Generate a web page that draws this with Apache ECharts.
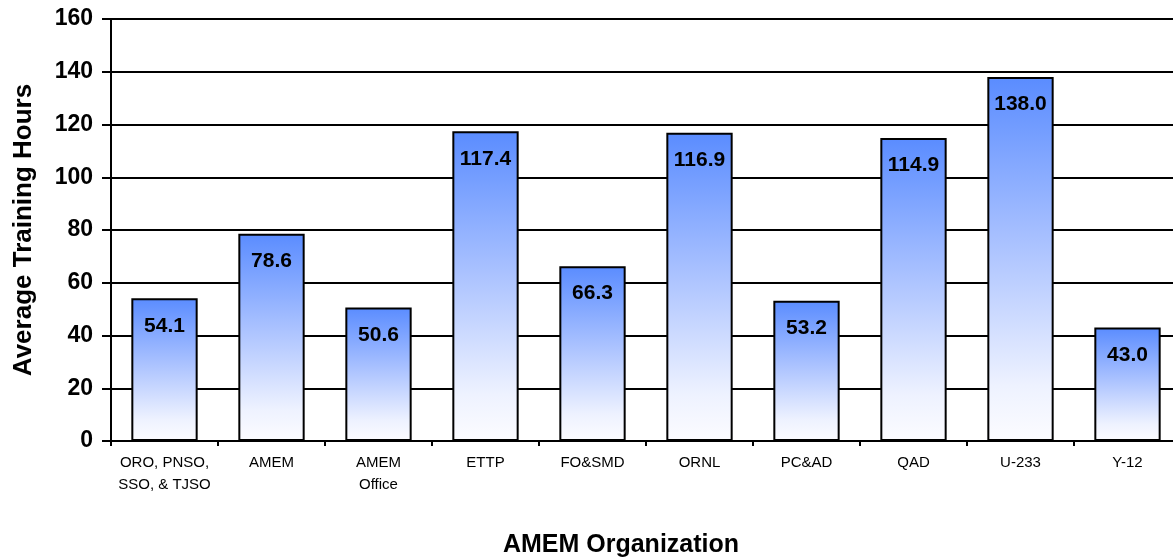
<!DOCTYPE html>
<html><head><meta charset="utf-8">
<script src="https://cdn.jsdelivr.net/npm/echarts@6/dist/echarts.min.js"></script>
<style>html,body{margin:0;padding:0;background:#fff}#c{width:1173px;height:558px}</style>
</head><body><div id="c"></div>
<script>
const categories = ["ORO, PNSO,\nSSO, & TJSO", "AMEM", "AMEM\nOffice", "ETTP", "FO&SMD", "ORNL", "PC&AD", "QAD", "U-233", "Y-12"];
const values = [54.1, 78.6, 50.6, 117.4, 66.3, 116.9, 53.2, 114.9, 138.0, 43.0];
const yTicks = { min: 0, max: 160, interval: 20 };

const FONT = 'Liberation Sans, Arial, sans-serif';
const chart = echarts.init(document.getElementById('c'), null, { renderer: 'canvas' });
chart.setOption({
  animation: false,
  backgroundColor: '#fff',
  grid: { left: 111, top: 19, bottom: 117, right: -8, containLabel: false, outerBoundsMode: 'none' },
  xAxis: {
    type: 'category',
    data: categories,
    name: 'AMEM Organization',
    nameLocation: 'middle',
    nameGap: 92,
    nameTextStyle: { fontFamily: FONT, fontSize: 25, fontWeight: 'bold', color: '#000', padding: [0, 50, 0, 0] },
    axisLine: { lineStyle: { color: '#000', width: 2 } },
    axisTick: { show: true, length: 5, lineStyle: { color: '#000', width: 2 } },
    axisLabel: { fontFamily: FONT, fontSize: 15, color: '#000', lineHeight: 22, margin: 11, interval: 0 }
  },
  yAxis: {
    type: 'value',
    min: yTicks.min, max: yTicks.max, interval: yTicks.interval,
    name: 'Average Training Hours',
    nameLocation: 'middle',
    nameGap: 74,
    nameTextStyle: { fontFamily: FONT, fontSize: 26, fontWeight: 'bold', color: '#000' },
    axisLine: { show: true, lineStyle: { color: '#000', width: 2 } },
    axisTick: { show: true, length: 9, lineStyle: { color: '#000', width: 2 } },
    axisLabel: { fontFamily: FONT, fontSize: 23, fontWeight: 'bold', color: '#000', margin: 18 },
    splitLine: { show: true, lineStyle: { color: '#000', width: 2 } }
  },
  series: [{
    type: 'bar',
    data: values,
    barWidth: '62%',
    itemStyle: {
      borderColor: '#000',
      borderWidth: 2,
      color: new echarts.graphic.LinearGradient(0, 0, 0, 1, [
        { offset: 0, color: '#5a8cff' },
        { offset: 0.45, color: '#a9c1ff' },
        { offset: 0.85, color: '#eef2ff' },
        { offset: 1, color: '#fcfcff' }
      ])
    },
    label: {
      show: true,
      position: 'insideTop',
      distance: 17,
      formatter: p => p.value.toFixed(1),
      fontFamily: FONT, fontSize: 21, fontWeight: 'bold', color: '#000'
    }
  }]
});
</script></body></html>
